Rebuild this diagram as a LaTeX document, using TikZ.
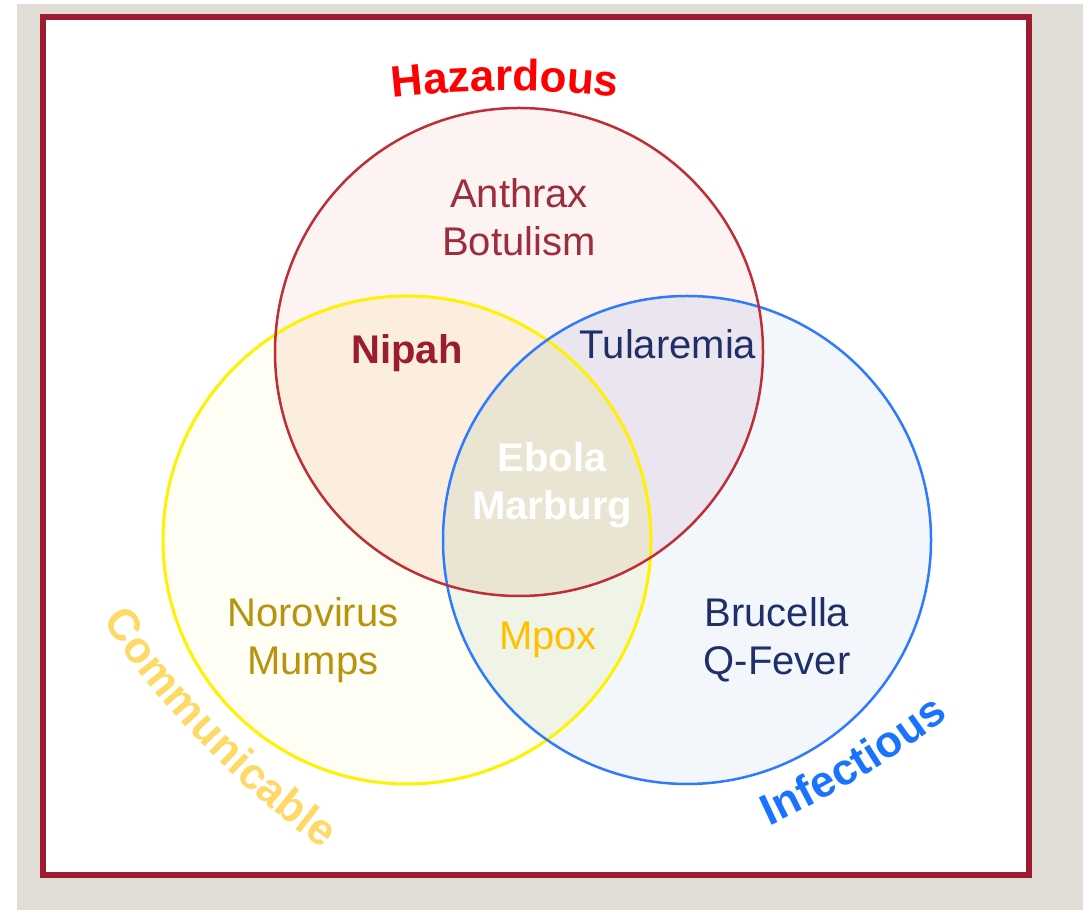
\documentclass[tikz,border=0pt]{standalone}
\usepackage{fontspec}
\setmainfont{Liberation Sans}
\usetikzlibrary{calc,decorations.text}
\definecolor{PageGray}{HTML}{E0DCD6}
\definecolor{FrameRed}{HTML}{9E1B32}
\definecolor{HazLine}{HTML}{BE2E37}
\definecolor{ComLine}{HTML}{FFF200}
\definecolor{InfLine}{HTML}{2E7BFF}
\definecolor{HazFill}{HTML}{FDF3F3}
\definecolor{ComFill}{HTML}{FFFEF4}
\definecolor{InfFill}{HTML}{F3F7FB}
\definecolor{HCFill}{HTML}{FCEEDF}
\definecolor{HIFill}{HTML}{EAE5EE}
\definecolor{CIFill}{HTML}{EFF4E6}
\definecolor{AllFill}{HTML}{EAE4D3}
\definecolor{HazText}{HTML}{9B2D3C}
\definecolor{NipahRed}{HTML}{9B1B30}
\definecolor{NavyText}{HTML}{1F3068}
\definecolor{GoldText}{HTML}{B8930E}
\definecolor{MpoxGold}{HTML}{FFC000}
\definecolor{HazTitle}{HTML}{FF0000}
\definecolor{ComTitle}{HTML}{FFD966}
\definecolor{InfTitle}{HTML}{1A73FF}
\newcommand\arcfont{\bfseries\fontsize{44}{46}\selectfont}

\begin{document}
\begin{tikzpicture}[x=1pt,y=1pt,
  lbl/.style={font=\fontsize{40}{48}\selectfont,align=center},
  arclbl/.style={decorate,decoration={text along path,text align=center,text color=#1}}]
  \useasboundingbox (0,0) rectangle (1083,910);
  \fill[PageGray] (17,0) rectangle (1083,906);
  \draw[FrameRed,line width=6,fill=white] (43,35) rectangle (1029,893);
  % circle centres
  \coordinate (hz) at (519,558);
  \coordinate (cm) at (407,370);
  \coordinate (inf) at (687,370);
  % regions
  \fill[HazFill] (hz) circle[radius=244];
  \fill[ComFill] (cm) circle[radius=244];
  \fill[InfFill] (inf) circle[radius=244];
  \begin{scope}
    \clip (hz) circle[radius=244];
    \fill[HCFill] (cm) circle[radius=244];
    \fill[HIFill] (inf) circle[radius=244];
  \end{scope}
  \begin{scope}
    \clip (cm) circle[radius=244];
    \fill[CIFill] (inf) circle[radius=244];
    \clip (hz) circle[radius=244];
    \fill[AllFill] (inf) circle[radius=244];
  \end{scope}
  \draw[ComLine,line width=3] (cm) circle[radius=244];
  \draw[InfLine,line width=2.5] (inf) circle[radius=244];
  \draw[HazLine,line width=2.5] (hz) circle[radius=244];
  % set labels
  \node[lbl,HazText] (anthrax) at (519,693) {Anthrax\\Botulism};
  \node[lbl,NipahRed,font=\bfseries\fontsize{40}{48}\selectfont] (nipah) at (407,557) {Nipah};
  \node[lbl,NavyText] (tularemia) at (668,566) {Tularemia};
  \node[lbl,white,font=\bfseries\fontsize{40}{48}\selectfont] (ebola) at (552,425) {Ebola\\Marburg};
  \node[lbl,GoldText] (noro) at (313,270) {Norovirus\\Mumps};
  \node[lbl,MpoxGold] (mpox) at (548,270) {Mpox};
  \node[lbl,NavyText] (brucella) at (777,270) {Brucella\\Q-Fever};
  % titles on arcs
  \coordinate (hzc) at (505,-181);
  \coordinate (cmc) at (858.8,800.1);
  \coordinate (infc) at (388,913.4);
  \path[arclbl=HazTitle,decoration={text={|\arcfont|Hazardous}}]
    ($(hzc)+(100:1000)$) arc[start angle=100,end angle=80,radius=1000];
  \path[arclbl=ComTitle,decoration={text={|\arcfont|Communicable},raise=-13}]
    ($(cmc)+(210:900)$) arc[start angle=210,end angle=238.1,radius=900];
  \path[arclbl=InfTitle,decoration={text={|\arcfont|Infectious},raise=-13}]
    ($(infc)+(292:900)$) arc[start angle=292,end angle=310.6,radius=900];
\end{tikzpicture}
\end{document}
